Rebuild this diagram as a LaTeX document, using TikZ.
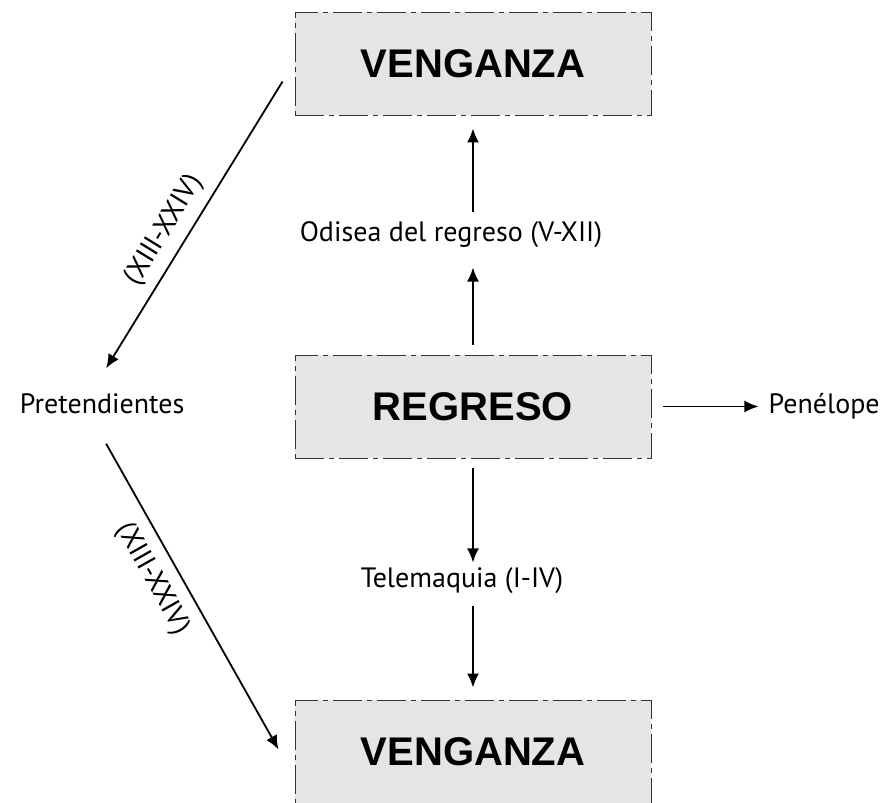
\documentclass[tikz,border=0pt]{standalone}
\usepackage{fontspec}
\setmainfont{PT Sans}
\newfontfamily\cajafont{Liberation Sans}
\usetikzlibrary{arrows.meta,positioning}

\begin{document}
\begin{tikzpicture}[x=1pt,y=-1pt,
    caja/.style={draw=black!80,fill=black!10,line width=0.9pt,
        dash pattern=on 29pt off 5pt on 5pt off 5pt,
        minimum width=356pt,minimum height=103pt,inner sep=0pt,
        font=\cajafont\bfseries\fontsize{40}{42}\selectfont},
    texto/.style={inner sep=0pt,text height=20pt,text depth=6pt,
        font=\fontsize{28}{30}\selectfont},
    flecha/.style={line width=1.8pt,-{Latex[length=14pt,width=12pt]}}]
    \useasboundingbox (0,0) rectangle (887,803);
    \node[caja] (venganzaA) at (473,63.5) {VENGANZA};
    \node[caja] (regreso) at (473,406.5) {REGRESO};
    \node[caja] (venganzaB) at (473,751.5) {VENGANZA};
    \node[texto,above=107pt of regreso,xshift=-22pt] (odisea) {Odisea del regreso (V-XII)};
    \node[texto,below=109pt of regreso,xshift=-11pt] (telemaquia) {Telemaquia (I-IV)};
    \node[texto,right=117pt of regreso] (penelope) {Penélope};
    \node[texto,left=110pt of regreso] (pretendientes) {Pretendientes};
    \draw[flecha,shorten <=10pt,shorten >=20pt] (regreso.north) -- (regreso.north |- odisea.south);
    \draw[flecha,shorten <=9pt,shorten >=13pt] (venganzaA.south |- odisea.north) -- (venganzaA.south);
    \draw[flecha,shorten <=10pt,shorten >=5pt] (regreso.south) -- (regreso.south |- telemaquia.north);
    \draw[flecha,shorten <=12pt,shorten >=12pt] (venganzaB.north |- telemaquia.south) -- (venganzaB.north);
    \draw[flecha,shorten <=12pt,shorten >=10pt] (regreso.east) -- (penelope.west);
    \draw[flecha] ([shift={(-12,18)}]venganzaA.west) -- ([shift={(4,-25)}]pretendientes.north)
        node[texto,pos=0.56,sloped,above=9pt] (capA) {(XIII-XXIV)};
    \draw[flecha] ([shift={(4,24)}]pretendientes.south) -- ([shift={(-16,-2)}]venganzaB.west)
        node[texto,pos=0.40,sloped,below=12pt] (capB) {(XIII-XXIV)};
\end{tikzpicture}
\end{document}
